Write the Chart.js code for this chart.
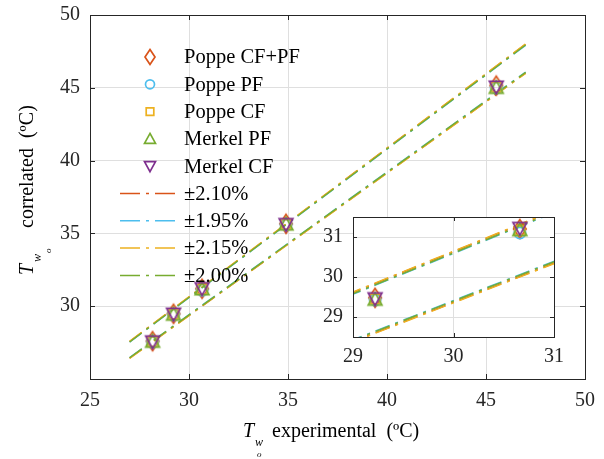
<!DOCTYPE html>
<html><head><meta charset="utf-8">
<script src="https://cdn.jsdelivr.net/npm/chart.js"></script>
<style>
html,body{margin:0;padding:0;background:#fff;}
#wrap{position:relative;width:604px;height:459px;overflow:hidden;}
#main{position:absolute;left:0;top:0;}
#inset{position:absolute;left:300px;top:200px;}
</style></head><body>
<div id="wrap"><canvas id="main" width="604" height="459"></canvas><canvas id="inset" width="280" height="170"></canvas></div>
<script>
// ---------- data ----------
const xTickVals = [25, 30, 35, 40, 45, 50];
const yTickVals = [30, 35, 40, 45, 50];
const insetTickVals = [29, 30, 31];

const expX      = [28.16, 29.22, 30.66, 34.90, 45.52];
const poppeCFPF = [27.60, 29.48, 31.20, 35.66, 45.15];
const poppePF   = [27.55, 29.43, 31.10, 35.60, 45.00];
const poppeCF   = [27.57, 29.45, 31.16, 35.62, 45.04];
const merkelPF  = [27.58, 29.44, 31.18, 35.63, 45.02];
const merkelCF  = [27.56, 29.46, 31.22, 35.62, 45.06];

const bandX     = [27, 47];
const band210Up = [27.57, 47.99];
const band210Lo = [26.43, 46.01];
const band195Up = [27.53, 47.92];
const band195Lo = [26.47, 46.08];
const band215Up = [27.58, 48.01];
const band215Lo = [26.42, 45.99];
const band200Up = [27.54, 47.94];
const band200Lo = [26.46, 46.06];

const seriesNames = ['Poppe CF+PF', 'Poppe PF', 'Poppe CF', 'Merkel PF', 'Merkel CF'];
const seriesVals = [poppeCFPF, poppePF, poppeCF, merkelPF, merkelCF];
const seriesColors = ['#D95319', '#4DBEEE', '#EDB120', '#77AC30', '#7E2F8E'];
const seriesShapes = ['diamond', 'circle', 'square', 'triUp', 'triDown'];

const bandNames = ['\u00B12.10%', '\u00B11.95%', '\u00B12.15%', '\u00B12.00%'];
const bandVals = [[band210Up, band210Lo], [band195Up, band195Lo], [band215Up, band215Lo], [band200Up, band200Lo]];
const bandColors = ['#D95319', '#4DBEEE', '#EDB120', '#77AC30'];

// ---------- helpers ----------
const FONT = '"Liberation Serif", "Times New Roman", serif';
const DASH = [15, 6, 3, 6];

function shapePath(g, shape, cx, cy, k) {
  g.beginPath();
  if (shape === 'diamond') {
    const hw = 5 * k, hh = 7.5 * k;
    g.moveTo(cx, cy - hh); g.lineTo(cx + hw, cy); g.lineTo(cx, cy + hh); g.lineTo(cx - hw, cy); g.closePath();
  } else if (shape === 'circle') {
    g.arc(cx, cy, 4.5 * k, 0, Math.PI * 2);
  } else if (shape === 'square') {
    const h = 3.8 * k; g.rect(cx - h, cy - h, 2 * h, 2 * h);
  } else if (shape === 'triUp') {
    const hw = 5.5 * k;
    g.moveTo(cx, cy - 5.5 * k); g.lineTo(cx + hw, cy + 4.5 * k); g.lineTo(cx - hw, cy + 4.5 * k); g.closePath();
  } else if (shape === 'triDown') {
    const hw = 5.5 * k;
    g.moveTo(cx, cy + 5.5 * k); g.lineTo(cx + hw, cy - 4.5 * k); g.lineTo(cx - hw, cy - 4.5 * k); g.closePath();
  }
}
function drawShape(g, shape, cx, cy, k, color) {
  g.save(); g.strokeStyle = color; g.lineWidth = 1.7; g.setLineDash([]);
  shapePath(g, shape, cx, cy, k); g.stroke(); g.restore();
}
function markerCanvas(shape, color, k) {
  const c = document.createElement('canvas'); c.width = 26; c.height = 26;
  drawShape(c.getContext('2d'), shape, 13, 13, k, color);
  return c;
}

function buildDatasets() {
  const ds = [];
  bandVals.forEach((pair, j) => {
    pair.forEach(vals => {
      ds.push({
        type: 'scatter', showLine: true,
        data: bandX.map((x, i) => ({ x: x, y: vals[i] })),
        borderColor: bandColors[j], backgroundColor: bandColors[j],
        borderWidth: 1.5, borderDash: DASH, borderCapStyle: 'butt',
        pointRadius: 0, pointHoverRadius: 0, clip: 0, tension: 0
      });
    });
  });
  seriesVals.forEach((vals, s) => {
    ds.push({
      type: 'scatter', label: seriesNames[s],
      data: expX.map((x, i) => ({ x: x, y: vals[i] })),
      pointStyle: markerCanvas(seriesShapes[s], seriesColors[s], 1.25),
      pointRadius: 7, borderColor: seriesColors[s], backgroundColor: 'rgba(0,0,0,0)',
      clip: 0
    });
  });
  ds.forEach((d, i) => { d.order = -i; });
  return ds;
}

const boxPlugin = {
  id: 'boxTicks',
  beforeDraw(chart, args, opts) {
    if (opts.fill) {
      const a = chart.chartArea, g = chart.ctx;
      g.save(); g.fillStyle = '#fff'; g.fillRect(a.left, a.top, a.right - a.left, a.bottom - a.top); g.restore();
    }
  },
  afterDatasetsDraw(chart, args, opts) {
    const a = chart.chartArea, g = chart.ctx, tl = opts.tickLen || 5;
    g.save();
    g.strokeStyle = '#262626'; g.lineWidth = 1; g.setLineDash([]);
    g.strokeRect(Math.round(a.left) + 0.5, Math.round(a.top) + 0.5, Math.round(a.right - a.left), Math.round(a.bottom - a.top));
    g.beginPath();
    chart.scales.x.ticks.forEach(t => {
      const px = Math.round(chart.scales.x.getPixelForValue(t.value)) + 0.5;
      g.moveTo(px, a.bottom); g.lineTo(px, a.bottom - tl);
      g.moveTo(px, a.top); g.lineTo(px, a.top + tl);
    });
    chart.scales.y.ticks.forEach(t => {
      const py = Math.round(chart.scales.y.getPixelForValue(t.value)) + 0.5;
      g.moveTo(a.left, py); g.lineTo(a.left + tl, py);
      g.moveTo(a.right, py); g.lineTo(a.right - tl, py);
    });
    g.stroke();
    g.restore();
  }
};

const decorPlugin = {
  id: 'decor',
  afterDraw(chart) {
    const g = chart.ctx;
    g.save();
    // legend
    g.textBaseline = 'middle'; g.textAlign = 'left'; g.fillStyle = '#000';
    g.font = '20.5px ' + FONT;
    seriesNames.forEach((n, i) => {
      const y = 57 + i * 27.3;
      drawShape(g, seriesShapes[i], 150, y, 1, seriesColors[i]);
      g.fillText(n, 184, y + 1);
    });
    bandNames.forEach((n, j) => {
      const y = 57 + (5 + j) * 27.3;
      g.save(); g.strokeStyle = bandColors[j]; g.lineWidth = 1.5; g.setLineDash([20, 6, 3, 6]);
      g.beginPath(); g.moveTo(120, y); g.lineTo(178, y); g.stroke(); g.restore();
      g.fillText(n, 184, y + 1);
    });
    // axis titles
    g.textBaseline = 'alphabetic';
    g.fillStyle = '#000';
    // x title
    g.font = 'italic 20px ' + FONT; g.fillText('T', 243, 437);
    g.font = 'italic 12px ' + FONT; g.fillText('w', 255, 446);
    g.font = 'italic 9px ' + FONT; g.fillText('o', 257, 457);
    g.font = '20px ' + FONT; g.fillText('experimental  (\u00BAC)', 272, 437);
    // y title (rotated)
    g.save();
    g.rotate(-Math.PI / 2);
    g.font = 'italic 20px ' + FONT; g.fillText('T', -275, 33);
    g.font = 'italic 12px ' + FONT; g.fillText('w', -262, 41);
    g.font = 'italic 9px ' + FONT; g.fillText('o', -253, 51);
    g.font = '20px ' + FONT; g.fillText('correlated  (\u00BAC)', -228, 33);
    g.restore();
    g.restore();
  }
};

const tickFont = { family: FONT, size: 20 };

function scaleOpts(min, max, tickVals, axis, size, pad) {
  return {
    type: 'linear', min: min, max: max,
    afterBuildTicks: s => { s.ticks = tickVals.map(v => ({ value: v })); },
    afterFit: s => {
      if (axis === 'x') { s.height = size; s.paddingLeft = 0; s.paddingRight = 0; }
      else { s.width = size; s.paddingTop = 0; s.paddingBottom = 0; }
    },
    ticks: { font: tickFont, color: '#262626', padding: pad, maxRotation: 0, autoSkip: false,
             callback: v => String(v) },
    grid: { color: '#DFDFDF', lineWidth: 1, drawTicks: false },
    border: { display: false }
  };
}

new Chart(document.getElementById('main'), {
  type: 'scatter',
  data: { datasets: buildDatasets() },
  options: {
    responsive: false, animation: false, devicePixelRatio: 1,
    layout: { padding: { left: 0, right: 19, top: 15, bottom: 0 } },
    plugins: { legend: { display: false }, tooltip: { enabled: false }, boxTicks: { tickLen: 5 } },
    scales: {
      x: scaleOpts(25, 50, xTickVals, 'x', 80, 10),
      y: scaleOpts(25, 50, yTickVals, 'y', 90, 10)
    }
  },
  plugins: [boxPlugin, decorPlugin]
});

new Chart(document.getElementById('inset'), {
  type: 'scatter',
  data: { datasets: buildDatasets() },
  options: {
    responsive: false, animation: false, devicePixelRatio: 1,
    layout: { padding: { left: 0, right: 26, top: 17, bottom: 0 } },
    plugins: { legend: { display: false }, tooltip: { enabled: false }, boxTicks: { tickLen: 4, fill: true } },
    scales: {
      x: scaleOpts(29, 31, insetTickVals, 'x', 33, 8),
      y: scaleOpts(28.5, 31.5, insetTickVals, 'y', 53, 10)
    }
  },
  plugins: [boxPlugin]
});
</script>
</body></html>
